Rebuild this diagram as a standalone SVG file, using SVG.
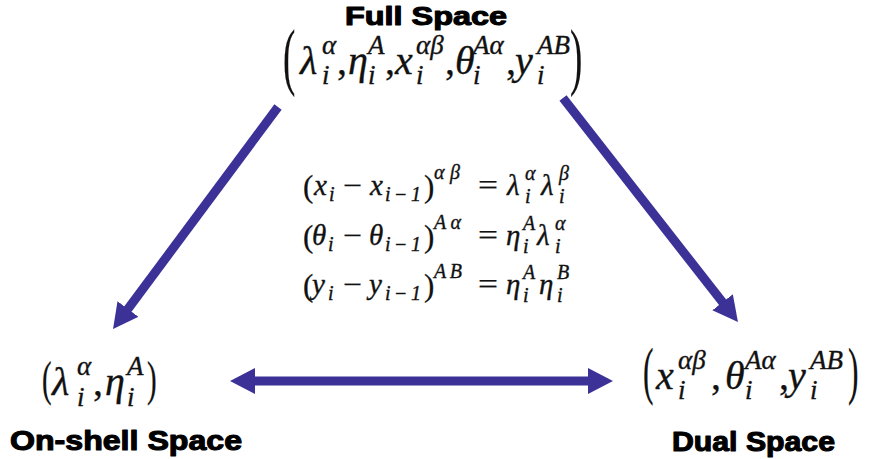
<svg xmlns="http://www.w3.org/2000/svg" width="869" height="459" viewBox="0 0 869 459">
<style>
.lbl{font-family:"Liberation Sans","Arial",sans-serif;font-weight:900;fill:#000;stroke:#000;stroke-width:1.1;stroke-linejoin:round}
.m{font-family:"Liberation Serif","Times New Roman",serif;font-style:italic;fill:#111;stroke:#111;stroke-width:0.35}
.r{font-family:"Liberation Serif","Times New Roman",serif;font-style:normal;fill:#111;stroke:#111;stroke-width:0.25}
.big{font-size:40px}
.bs{font-size:27px}
.mid{font-size:29px}
.ms{font-size:20px}
.arr{stroke:#3b3197;stroke-width:9;fill:none;stroke-linecap:butt}
</style>
<defs>
<marker id="head" viewBox="0 0 25 26" refX="15" refY="13" markerWidth="25" markerHeight="26" markerUnits="userSpaceOnUse" orient="auto-start-reverse">
<path d="M0,0 L25,13 L0,26 z" fill="#3b3197"/>
</marker>
</defs>
<rect width="869" height="459" fill="#fff"/>

<g id="connectors">
<line class="arr" x1="278" y1="107" x2="119" y2="321" marker-end="url(#head)"/>
<line class="arr" x1="563" y1="98" x2="731.8" y2="314.1" marker-end="url(#head)"/>
<line class="arr" x1="240" y1="381" x2="603" y2="381" marker-start="url(#head)" marker-end="url(#head)"/>
</g>

<g id="full-space">
<text class="lbl" x="345" y="25" font-size="26" textLength="162" lengthAdjust="spacingAndGlyphs">Full Space</text>
<text class="r" font-size="74" transform="translate(283,81) scale(0.5,1)">(</text>
<text class="m big" x="300" y="74">λ</text>
<text class="m bs" x="322" y="54">α</text>
<text class="m bs" x="322" y="84">i</text>
<text class="r big" x="337" y="74">,</text>
<text class="m big" x="348" y="74">η</text>
<text class="m bs" x="368" y="54">A</text>
<text class="m bs" x="368" y="84">i</text>
<text class="r big" x="385" y="74">,</text>
<text class="m big" x="395" y="74">x</text>
<text class="m bs" x="416" y="54">αβ</text>
<text class="m bs" x="416" y="84">i</text>
<text class="r big" x="445" y="74">,</text>
<text class="m big" x="455" y="74">θ</text>
<text class="m bs" x="473" y="54">Aα</text>
<text class="m bs" x="473" y="84">i</text>
<text class="r big" x="506" y="74">,</text>
<text class="m big" x="515" y="74">y</text>
<text class="m bs" x="537" y="54">AB</text>
<text class="m bs" x="537" y="84">i</text>
<text class="r" font-size="74" transform="translate(570,81) scale(0.5,1)">)</text>
</g>

<g id="relations">
<text class="r" x="303" y="197" font-size="31">(</text>
<text class="m mid" x="314" y="195">x</text>
<text class="m ms" x="329" y="201">i</text>
<text class="r mid" x="343" y="195" textLength="19" lengthAdjust="spacingAndGlyphs">−</text>
<text class="m mid" x="370" y="195">x</text>
<text class="m ms" x="385" y="201" textLength="36" lengthAdjust="spacing">i−1</text>
<text class="r" x="424" y="197" font-size="31">)</text>
<text class="m ms" x="434" y="179" textLength="26" lengthAdjust="spacing">αβ</text>
<text class="r mid" x="478" y="195" textLength="20" lengthAdjust="spacingAndGlyphs">=</text>
<text class="m mid" x="507" y="195">λ</text>
<text class="m ms" x="525" y="180">α</text>
<text class="m ms" x="525" y="203">i</text>
<text class="m mid" x="541" y="195">λ</text>
<text class="m ms" x="559" y="180">β</text>
<text class="m ms" x="559" y="203">i</text>

<text class="r" x="303" y="247" font-size="31">(</text>
<text class="m mid" x="312" y="245">θ</text>
<text class="m ms" x="328" y="251">i</text>
<text class="r mid" x="343" y="245" textLength="19" lengthAdjust="spacingAndGlyphs">−</text>
<text class="m mid" x="369" y="245">θ</text>
<text class="m ms" x="385" y="251" textLength="36" lengthAdjust="spacing">i−1</text>
<text class="r" x="424" y="247" font-size="31">)</text>
<text class="m ms" x="434" y="229" textLength="27" lengthAdjust="spacing">Aα</text>
<text class="r mid" x="478" y="245" textLength="20" lengthAdjust="spacingAndGlyphs">=</text>
<text class="m mid" x="506" y="245">η</text>
<text class="m ms" x="523" y="230">A</text>
<text class="m ms" x="523" y="253">i</text>
<text class="m mid" x="537" y="245">λ</text>
<text class="m ms" x="555" y="230">α</text>
<text class="m ms" x="555" y="253">i</text>

<text class="r" x="303" y="296" font-size="31">(</text>
<text class="m mid" x="312" y="294">y</text>
<text class="m ms" x="328" y="300">i</text>
<text class="r mid" x="343" y="294" textLength="19" lengthAdjust="spacingAndGlyphs">−</text>
<text class="m mid" x="369" y="294">y</text>
<text class="m ms" x="385" y="300" textLength="36" lengthAdjust="spacing">i−1</text>
<text class="r" x="424" y="296" font-size="31">)</text>
<text class="m ms" x="434" y="278" textLength="28" lengthAdjust="spacing">AB</text>
<text class="r mid" x="478" y="294" textLength="20" lengthAdjust="spacingAndGlyphs">=</text>
<text class="m mid" x="506" y="294">η</text>
<text class="m ms" x="523" y="279">A</text>
<text class="m ms" x="523" y="302">i</text>
<text class="m mid" x="539" y="294">η</text>
<text class="m ms" x="557" y="279">B</text>
<text class="m ms" x="557" y="302">i</text>
</g>

<g id="onshell-space">
<text class="r" font-size="48" transform="translate(42,395) scale(0.6,1)">(</text>
<text class="m big" x="52" y="395">λ</text>
<text class="m bs" x="77" y="375">α</text>
<text class="m bs" x="77" y="406">i</text>
<text class="r big" x="93" y="395">,</text>
<text class="m big" x="105" y="395">η</text>
<text class="m bs" x="127" y="375">A</text>
<text class="m bs" x="127" y="406">i</text>
<text class="r" font-size="48" transform="translate(147,395) scale(0.6,1)">)</text>
<text class="lbl" x="10" y="450" font-size="27" textLength="232" lengthAdjust="spacingAndGlyphs">On-shell Space</text>
</g>

<g id="dual-space">
<text class="r" font-size="63" transform="translate(643,392) scale(0.5,1)">(</text>
<text class="m big" x="656" y="389">x</text>
<text class="m bs" x="678" y="369">αβ</text>
<text class="m bs" x="678" y="399">i</text>
<text class="r big" x="711" y="389">,</text>
<text class="m big" x="725" y="389">θ</text>
<text class="m bs" x="745" y="369">Aα</text>
<text class="m bs" x="745" y="399">i</text>
<text class="r big" x="779" y="389">,</text>
<text class="m big" x="788" y="389">y</text>
<text class="m bs" x="810" y="369">AB</text>
<text class="m bs" x="810" y="399">i</text>
<text class="r" font-size="63" transform="translate(848,392) scale(0.5,1)">)</text>
<text class="lbl" x="672" y="451" font-size="27" textLength="163" lengthAdjust="spacingAndGlyphs">Dual Space</text>
</g>
</svg>
